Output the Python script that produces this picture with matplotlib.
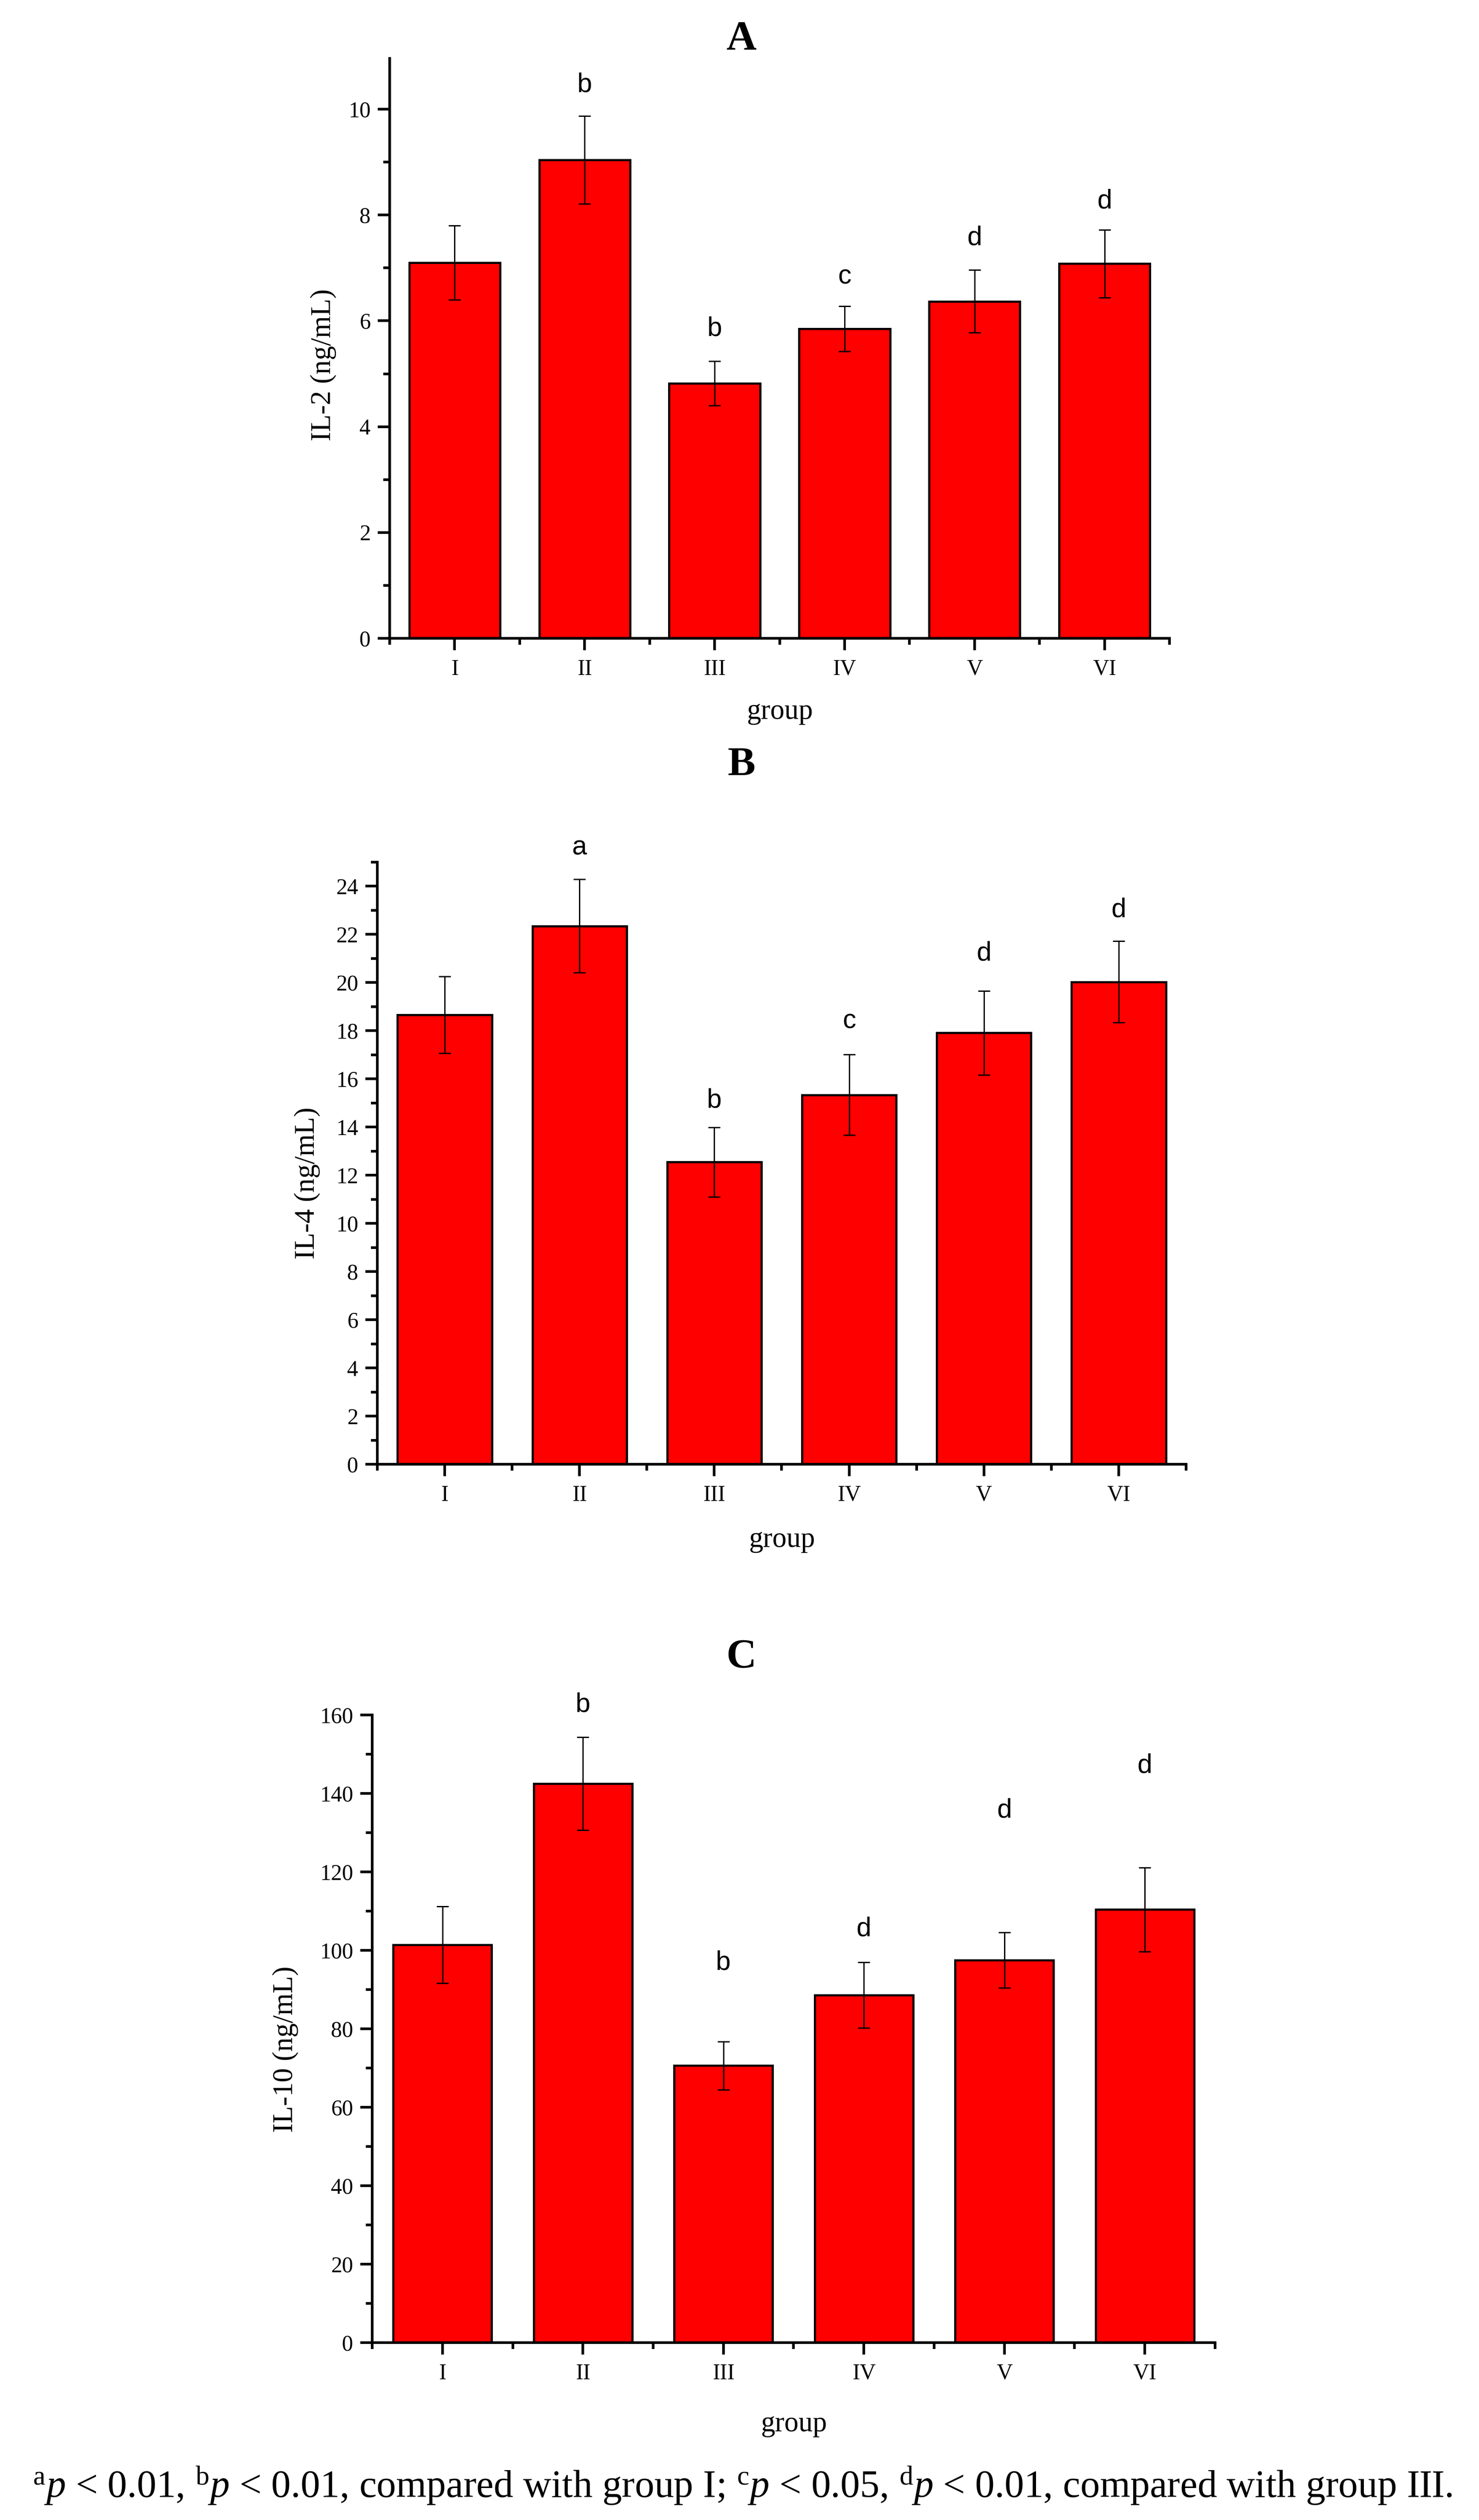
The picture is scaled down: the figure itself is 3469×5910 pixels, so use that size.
import matplotlib
matplotlib.use("Agg")
import matplotlib.pyplot as plt
from matplotlib.ticker import MultipleLocator, FixedLocator

W, H, DPI = 3469, 5910, 300

plt.rcParams["font.family"] = ["Liberation Serif", "DejaVu Serif"]
plt.rcParams["mathtext.fontset"] = "custom"
plt.rcParams["mathtext.rm"] = "Liberation Serif"
plt.rcParams["mathtext.it"] = "Liberation Serif:italic"

GROUPS = ["I", "II", "III", "IV", "V", "VI"]

IL2_MEAN = [7.10, 9.04, 4.82, 5.85, 6.37, 7.08]
IL2_SD = [0.70, 0.83, 0.42, 0.43, 0.59, 0.64]
IL2_SIG = ["", "b", "b", "c", "d", "d"]
IL2_SIG_Y = [None, 10.46, 5.85, 6.83, 7.57, 8.26]

IL4_MEAN = [18.66, 22.35, 12.55, 15.34, 17.91, 20.03]
IL4_SD = [1.60, 1.94, 1.44, 1.67, 1.74, 1.69]
IL4_SIG = ["", "a", "b", "c", "d", "d"]
IL4_SIG_Y = [None, 25.61, 15.10, 18.40, 21.21, 23.02]

IL10_MEAN = [101.4, 142.5, 70.6, 88.6, 97.5, 110.4]
IL10_SD = [9.8, 11.9, 6.1, 8.4, 7.1, 10.7]
IL10_SIG = ["", "b", "b", "d", "d", "d"]
IL10_SIG_Y = [None, 162.6, 96.9, 105.4, 135.7, 147.1]

FOOTNOTE = (r"$^{\rm a}$$\it{p}$ < 0.01, $^{\rm b}$$\it{p}$ < 0.01, compared with group I; "
            r"$^{\rm c}$$\it{p}$ < 0.05, $^{\rm d}$$\it{p}$ < 0.01, compared with group III.")

# panel: title, ylabel, data, y top, major/minor step
PANELS = [
    ("A", "IL-2 (ng/mL)", IL2_MEAN, IL2_SD, IL2_SIG, IL2_SIG_Y, 10.96, 2, 1),
    ("B", "IL-4 (ng/mL)", IL4_MEAN, IL4_SD, IL4_SIG, IL4_SIG_Y, 25, 2, 1),
    ("C", "IL-10 (ng/mL)", IL10_MEAN, IL10_SD, IL10_SIG, IL10_SIG_Y, 160, 20, 10),
]

# layout measured in output pixels (left, top, right, bottom)
BOX = {"A": (914, 137, 2743, 1497), "B": (885, 2022, 2782, 3434),
       "C": (873, 4022, 2850, 5494)}
TITLE_BASE = {"A": 115, "B": 1818, "C": 3911}
XLABEL_Y = {"A": 1670, "B": 3612, "C": 5685}
YLABEL_XY = {"A": (758, 856), "B": (720, 2775), "C": (669, 4806)}


def fx(x):
    return x / W


def fy(y):
    return 1 - y / H


fig = plt.figure(figsize=(W / DPI, H / DPI), dpi=DPI)
fig.patch.set_facecolor("white")

for title, ylabel, mean, sd, sig, sig_y, ytop, major, minor in PANELS:
    l, t, r, b = BOX[title]
    ax = fig.add_axes([fx(l), fy(b), fx(r) - fx(l), fy(t) - fy(b)])
    xs = list(range(1, len(GROUPS) + 1))
    ax.bar(xs, mean, width=0.7, color="#ff0000", edgecolor="black",
           linewidth=1.2, zorder=2)
    ax.errorbar(xs, mean, yerr=sd, fmt="none", ecolor="black",
                elinewidth=0.75, capsize=3.4, capthick=0.75, zorder=3)
    for x, s, y in zip(xs, sig, sig_y):
        if s:
            ax.text(x, y, s, ha="center", va="center", fontsize=15,
                    family=["Liberation Sans", "DejaVu Sans"], clip_on=False)

    ax.set_xlim(0.5, len(GROUPS) + 0.5)
    ax.set_ylim(0, ytop)
    ax.xaxis.set_major_locator(FixedLocator(xs))
    ax.set_xticklabels(GROUPS)
    ax.xaxis.set_minor_locator(FixedLocator([x - 0.5 for x in xs] + [xs[-1] + 0.5]))
    ax.yaxis.set_major_locator(MultipleLocator(major))
    ax.yaxis.set_minor_locator(MultipleLocator(minor))

    for side in ("top", "right"):
        ax.spines[side].set_visible(False)
    for side in ("left", "bottom"):
        ax.spines[side].set_linewidth(1.5)
    ax.tick_params(which="major", direction="out", length=6.7, width=1.5,
                   labelsize=12.5, pad=4)
    ax.tick_params(which="minor", direction="out", length=3.6, width=1.5)
    ax.tick_params(axis="x", which="major", pad=5)

    ax.set_xlabel("group", fontsize=16, va="center")
    ax.xaxis.set_label_coords(fx((l + r) / 2), fy(XLABEL_Y[title]),
                              transform=fig.transFigure)
    ax.set_ylabel(ylabel, fontsize=16, va="center")
    yx, yy = YLABEL_XY[title]
    ax.yaxis.set_label_coords(fx(yx), fy(yy), transform=fig.transFigure)

    fig.text(0.5013, fy(TITLE_BASE[title]), title, ha="center", va="baseline",
             fontsize=23.5, fontweight="bold")

fig.text(0.502, fy(5830), FOOTNOTE, ha="center", va="center", fontsize=22)

fig.savefig("out.png", dpi=DPI, facecolor="white")
